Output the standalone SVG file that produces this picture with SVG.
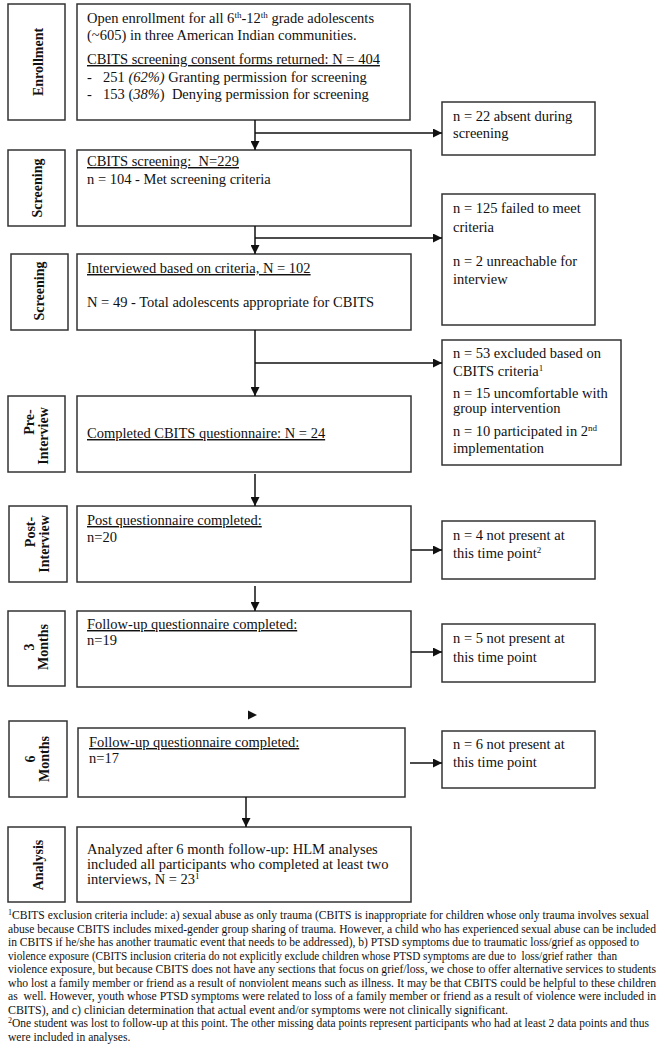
<svg xmlns="http://www.w3.org/2000/svg" width="665" height="1050" viewBox="0 0 665 1050">
<style>
text{font-family:"Liberation Serif","Times New Roman",serif;fill:#111}
.t{font-size:14.5px}
.lb{font-size:14px;font-weight:bold}
.fn{font-size:11.6px}
.u{text-decoration:underline}
.box{fill:#fff;stroke:#333;stroke-width:1.5}
.con{fill:none;stroke:#111;stroke-width:1.5}
</style>
<defs>
<marker id="ah" markerUnits="userSpaceOnUse" markerWidth="10" markerHeight="9" refX="9" refY="4.5" orient="auto">
<path d="M0,0 L9,4.5 L0,9 z" fill="#111"/>
</marker>
</defs>
<rect width="665" height="1050" fill="#fff"/>

<g id="label-enrollment">
<rect class="box" x="8" y="4" width="57" height="116"/>
<text class="lb" transform="translate(38,62) rotate(-90)" text-anchor="middle" dominant-baseline="central">Enrollment</text>
</g>
<g id="node-enrollment">
<rect class="box" x="77" y="4" width="333" height="116"/>
<text class="t" x="87" y="23">Open enrollment for all 6<tspan font-size="9" dy="-5">th</tspan><tspan dy="5">-12</tspan><tspan font-size="9" dy="-5">th</tspan><tspan dy="5"> grade adolescents</tspan></text>
<text class="t" x="87" y="40">(~605) in three American Indian communities.</text>
<text class="t u" x="87" y="64">CBITS screening consent forms returned: N = 404</text>
<text class="t" x="87" y="82">-</text>
<text class="t" x="103" y="82">251 <tspan font-style="italic">(62%)</tspan> Granting permission for screening</text>
<text class="t" x="87" y="99">-</text>
<text class="t" x="103" y="99" xml:space="preserve">153 (<tspan font-style="italic">38%</tspan>)  Denying permission for screening</text>
</g>

<g id="label-screening1">
<rect class="box" x="8" y="150" width="57" height="76"/>
<text class="lb" transform="translate(37,188) rotate(-90)" text-anchor="middle" dominant-baseline="central">Screening</text>
</g>
<g id="node-screening1">
<rect class="box" x="77" y="150" width="334" height="76"/>
<text class="t u" x="87" y="166" xml:space="preserve">CBITS screening:  N=229</text>
<text class="t" x="87" y="184">n = 104 - Met screening criteria</text>
</g>

<g id="label-screening2">
<rect class="box" x="11" y="254" width="57" height="76"/>
<text class="lb" transform="translate(39,291) rotate(-90)" text-anchor="middle" dominant-baseline="central">Screening</text>
</g>
<g id="node-screening2">
<rect class="box" x="77" y="254" width="334" height="76"/>
<text class="t u" x="87" y="273">Interviewed based on criteria, N = 102</text>
<text class="t" x="87" y="307">N = 49 - Total adolescents appropriate for CBITS</text>
</g>

<g id="label-pre">
<rect class="box" x="8" y="396" width="57" height="76"/>
<text class="lb" transform="translate(29,422) rotate(-90)" text-anchor="middle" dominant-baseline="central">Pre-</text>
<text class="lb" transform="translate(43,436) rotate(-90)" text-anchor="middle" dominant-baseline="central">Interview</text>
</g>
<g id="node-pre">
<rect class="box" x="77" y="396" width="334" height="76"/>
<text class="t u" x="87" y="438">Completed CBITS questionnaire: N = 24</text>
</g>

<g id="label-post">
<rect class="box" x="9" y="506" width="58" height="76"/>
<text class="lb" transform="translate(30,532) rotate(-90)" text-anchor="middle" dominant-baseline="central">Post-</text>
<text class="lb" transform="translate(44,544) rotate(-90)" text-anchor="middle" dominant-baseline="central">Interview</text>
</g>
<g id="node-post">
<rect class="box" x="77" y="506" width="334" height="76"/>
<text class="t u" x="87" y="525">Post questionnaire completed:</text>
<text class="t" x="87" y="542">n=20</text>
</g>

<g id="label-3m">
<rect class="box" x="8" y="611" width="57" height="75"/>
<text class="lb" transform="translate(29,647) rotate(-90)" text-anchor="middle" dominant-baseline="central">3</text>
<text class="lb" transform="translate(43,647) rotate(-90)" text-anchor="middle" dominant-baseline="central">Months</text>
</g>
<g id="node-3m">
<rect class="box" x="77" y="611" width="334" height="76"/>
<text class="t u" x="87" y="629">Follow-up questionnaire completed:</text>
<text class="t" x="87" y="645">n=19</text>
</g>

<g id="label-6m">
<rect class="box" x="9" y="721" width="58" height="76"/>
<text class="lb" transform="translate(30,759) rotate(-90)" text-anchor="middle" dominant-baseline="central">6</text>
<text class="lb" transform="translate(44,759) rotate(-90)" text-anchor="middle" dominant-baseline="central">Months</text>
</g>
<g id="node-6m">
<rect class="box" x="78" y="728" width="327" height="69"/>
<text class="t u" x="89" y="747">Follow-up questionnaire completed:</text>
<text class="t" x="89" y="763">n=17</text>
</g>

<g id="label-analysis">
<rect class="box" x="8" y="827" width="57" height="75"/>
<text class="lb" transform="translate(38,865) rotate(-90)" text-anchor="middle" dominant-baseline="central">Analysis</text>
</g>
<g id="node-analysis">
<rect class="box" x="77" y="827" width="334" height="75"/>
<text class="t" x="87" y="854">Analyzed after 6 month follow-up: HLM analyses</text>
<text class="t" x="87" y="869">included all participants who completed at least two</text>
<text class="t" x="87" y="884">interviews, N = 23<tspan font-size="9" dy="-5">1</tspan></text>
</g>

<g id="side-absent">
<rect class="box" x="442" y="102" width="153" height="53"/>
<text class="t" x="453" y="121">n = 22 absent during</text>
<text class="t" x="453" y="138">screening</text>
</g>
<g id="side-failed">
<rect class="box" x="442" y="194" width="153" height="131"/>
<text class="t" x="453" y="213">n = 125 failed to meet</text>
<text class="t" x="453" y="232">criteria</text>
<text class="t" x="453" y="266">n = 2 unreachable for</text>
<text class="t" x="453" y="284">interview</text>
</g>
<g id="side-excluded">
<rect class="box" x="442" y="340" width="179" height="125"/>
<text class="t" x="453" y="358">n = 53 excluded based on</text>
<text class="t" x="453" y="376">CBITS criteria<tspan font-size="9" dy="-5">1</tspan></text>
<text class="t" x="453" y="398">n = 15 uncomfortable with</text>
<text class="t" x="453" y="413">group intervention</text>
<text class="t" x="453" y="436">n = 10 participated in 2<tspan font-size="9" dy="-5">nd</tspan></text>
<text class="t" x="453" y="453">implementation</text>
</g>
<g id="side-post">
<rect class="box" x="442" y="521" width="153" height="58"/>
<text class="t" x="453" y="540">n = 4 not present at</text>
<text class="t" x="453" y="558">this time point<tspan font-size="9" dy="-5">2</tspan></text>
</g>
<g id="side-3m">
<rect class="box" x="442" y="624" width="153" height="58"/>
<text class="t" x="453" y="643">n = 5 not present at</text>
<text class="t" x="453" y="662">this time point</text>
</g>
<g id="side-6m">
<rect class="box" x="442" y="731" width="153" height="57"/>
<text class="t" x="453" y="749">n = 6 not present at</text>
<text class="t" x="453" y="767">this time point</text>
</g>

<g id="connectors">
<path class="con" d="M255,120 V150" marker-end="url(#ah)"/>
<path class="con" d="M255,133 H442" marker-end="url(#ah)"/>
<path class="con" d="M255,226 V254" marker-end="url(#ah)"/>
<path class="con" d="M255,238 H442" marker-end="url(#ah)"/>
<path class="con" d="M255,330 V396" marker-end="url(#ah)"/>
<path class="con" d="M255,363 H442" marker-end="url(#ah)"/>
<path class="con" d="M255,474 V506" marker-end="url(#ah)"/>
<path class="con" d="M411,550 H442" marker-end="url(#ah)"/>
<path class="con" d="M255,586 V611" marker-end="url(#ah)"/>
<path class="con" d="M411,652 H442" marker-end="url(#ah)"/>
<polygon points="248,710.5 257,715 248,719.5" fill="#111"/>
<path class="con" d="M410,763 H442" marker-end="url(#ah)"/>
<path class="con" d="M246,797 V827" marker-end="url(#ah)"/>
</g>

<g id="footnotes">
<text class="fn" x="8" y="919"><tspan font-size="8" dy="-4">1</tspan><tspan dy="4" textLength="637" lengthAdjust="spacingAndGlyphs">CBITS exclusion criteria include: a) sexual abuse as only trauma (CBITS is inappropriate for children whose only trauma involves sexual</tspan></text>
<text class="fn" x="8" y="932.5" textLength="648" lengthAdjust="spacingAndGlyphs">abuse because CBITS includes mixed-gender group sharing of trauma. However, a child who has experienced sexual abuse can be included</text>
<text class="fn" x="8" y="946" textLength="631" lengthAdjust="spacingAndGlyphs">in CBITS if he/she has another traumatic event that needs to be addressed), b) PTSD symptoms due to traumatic loss/grief as opposed to</text>
<text class="fn" x="8" y="959.5" xml:space="preserve" textLength="609" lengthAdjust="spacingAndGlyphs">violence exposure (CBITS inclusion criteria do not explicitly exclude children whose PTSD symptoms are due to  loss/grief rather  than</text>
<text class="fn" x="8" y="973" textLength="648" lengthAdjust="spacingAndGlyphs">violence exposure, but because CBITS does not have any sections that focus on grief/loss, we chose to offer alternative services to students</text>
<text class="fn" x="8" y="986.5" textLength="648" lengthAdjust="spacingAndGlyphs">who lost a family member or friend as a result of nonviolent means such as illness. It may be that CBITS could be helpful to these children</text>
<text class="fn" x="8" y="1000" xml:space="preserve" textLength="648" lengthAdjust="spacingAndGlyphs">as  well. However, youth whose PTSD symptoms were related to loss of a family member or friend as a result of violence were included in</text>
<text class="fn" x="8" y="1013.5" textLength="500" lengthAdjust="spacingAndGlyphs">CBITS), and c) clinician determination that actual event and/or symptoms were not clinically significant.</text>
<text class="fn" x="8" y="1027"><tspan font-size="8" dy="-4">2</tspan><tspan dy="4" textLength="637" lengthAdjust="spacingAndGlyphs">One student was lost to follow-up at this point. The other missing data points represent participants who had at least 2 data points and thus</tspan></text>
<text class="fn" x="8" y="1040.5">were included in analyses.</text>
</g>
</svg>
